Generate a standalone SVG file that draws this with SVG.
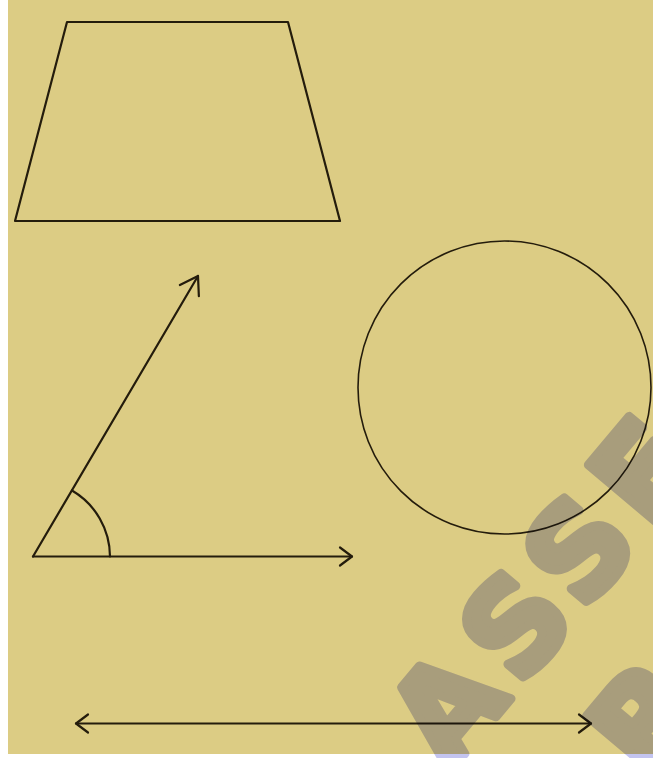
<svg xmlns="http://www.w3.org/2000/svg" width="653" height="758" viewBox="0 0 653 758">
  <style>
    .ln { fill: none; stroke: #241c0c; stroke-width: 2.2; stroke-linecap: round; stroke-linejoin: round; }
    .thin { fill: none; stroke: #241c0c; stroke-width: 1.6; }
    .wm { font-family: "DejaVu Sans", "Liberation Sans", sans-serif; font-weight: bold; font-size: 125px; letter-spacing: 14px; fill: #c3c4f0; stroke: #c3c4f0; stroke-width: 9; stroke-linejoin: round; }
  </style>
  <defs>
    <marker id="arr" markerUnits="userSpaceOnUse" markerWidth="30" markerHeight="30" refX="0" refY="0" viewBox="-20 -15 30 30" orient="auto-start-reverse">
      <path d="M-12,-9 L0,0 L-12,9" fill="none" stroke="#241c0c" stroke-width="2.2" stroke-linecap="round" stroke-linejoin="round"/>
    </marker>
    <marker id="arrL" markerUnits="userSpaceOnUse" markerWidth="40" markerHeight="40" refX="0" refY="0" viewBox="-25 -20 40 40" orient="auto">
      <path d="M-17,-11 L0,0 L-17,11" fill="none" stroke="#241c0c" stroke-width="2.2" stroke-linecap="round" stroke-linejoin="round"/>
    </marker>
  </defs>
  <rect x="0" y="0" width="653" height="758" fill="#ffffff"/>
  <rect x="8" y="0" width="645" height="754" fill="#dccc84"/>

  <g id="trapezoid">
    <path class="ln" d="M67,22 L288,22 L340,221 L15,221 Z"/>
  </g>

  <g id="circle">
    <circle class="thin" cx="504.5" cy="387.5" r="146.5"/>
  </g>

  <g id="connectors">
    <g id="angle">
      <line class="ln" x1="33" y1="556.5" x2="352" y2="556.5" marker-end="url(#arr)"/>
      <line class="ln" x1="33" y1="556.5" x2="198" y2="276" marker-end="url(#arrL)"/>
      <path class="ln" d="M72,490.5 A77,77 0 0 1 110,556.5"/>
    </g>
    <g id="double-arrow">
      <line class="ln" x1="76" y1="723.5" x2="591" y2="723.5" marker-start="url(#arr)" marker-end="url(#arr)"/>
    </g>
  </g>

  <g id="watermark" style="mix-blend-mode:multiply">
    <g transform="translate(447,705) rotate(-50)">
      <text class="wm" x="-50" y="45">ASSE</text>
      <text class="wm" x="70" y="205">R</text>
    </g>
  </g>
</svg>
